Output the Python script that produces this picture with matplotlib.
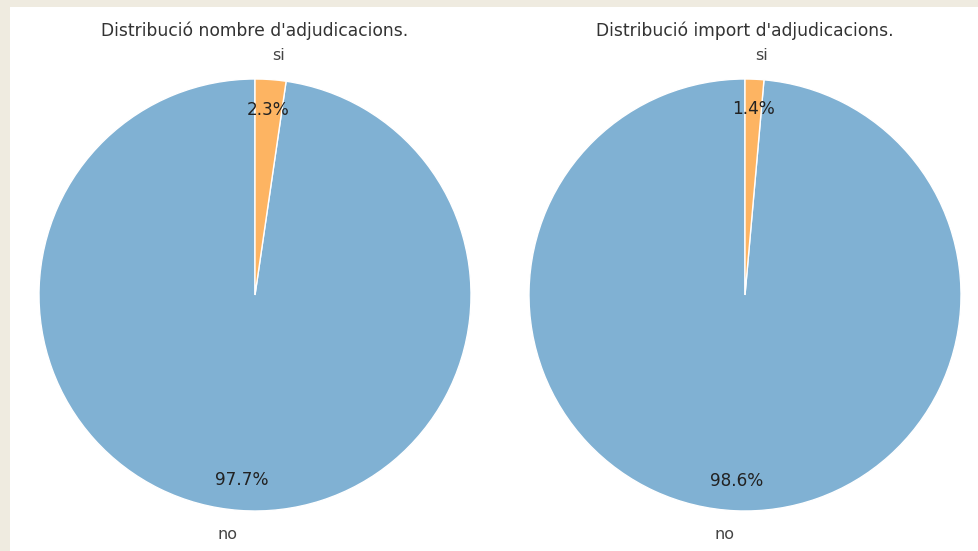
import matplotlib
matplotlib.use("Agg")
import matplotlib.pyplot as plt
from matplotlib.patches import Rectangle

labels = ["no", "si"]
count_share = [97.7, 2.3]
amount_share = [98.6, 1.4]
titles = ["Distribució nombre d'adjudicacions.", "Distribució import d'adjudicacions."]
colors = ["#80b1d3", "#fdb462"]

W, H = 979, 551
fig = plt.figure(figsize=(W / 100, H / 100), dpi=100, facecolor="#efebe0")
fig.patches.append(Rectangle((10 / W, 0), 1, 1 - 7 / H, transform=fig.transFigure,
                             facecolor="white", edgecolor="none", zorder=-1))

R = 216
centers = [(255, 295), (745, 295)]
for (cx, cy), vals, title in zip(centers, [count_share, amount_share], titles):
    ax = fig.add_axes([(cx - R) / W, (H - cy - R) / H, 2 * R / W, 2 * R / H])
    ax.pie(vals, labels=labels, colors=colors, startangle=90, autopct="%1.1f%%",
           pctdistance=0.86, labeldistance=1.11,
           wedgeprops=dict(edgecolor="white", linewidth=1),
           textprops=dict(fontsize=12.2, color="#222222"))
    for t in ax.texts:
        if t.get_text() in labels:
            t.set_color("#444444")
            t.set_fontsize(11.5)
    ax.set_xlim(-1, 1)
    ax.set_ylim(-1, 1)
    ax.set_aspect("equal")
    ax.text(0, 1.225, title, ha="center", va="center", fontsize=12.3, color="#333333")

fig.savefig("out.png", dpi=100, facecolor=fig.get_facecolor())
